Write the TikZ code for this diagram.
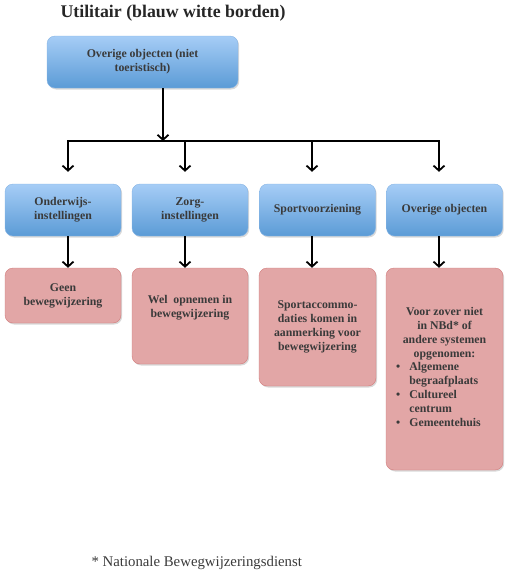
\documentclass[tikz,border=0pt]{standalone}
\usepackage{fontspec}
\setmainfont{Liberation Serif}
\usetikzlibrary{arrows.meta,positioning,shadows}
\definecolor{signtop}{HTML}{A6CDF6}
\definecolor{signbot}{HTML}{5B9BD6}
\definecolor{signrim}{HTML}{86B4E4}
\definecolor{notefill}{HTML}{E2A6A6}
\definecolor{noterim}{HTML}{D27C7C}
\definecolor{inktext}{HTML}{3A3A3A}
\tikzset{
  bx/.style={rounded corners=8pt, align=center, font=\bfseries\fontsize{11.8}{14}\selectfont, text=inktext, inner sep=2pt,
    drop shadow={shadow xshift=1.2pt, shadow yshift=-1.5pt, opacity=0.3}},
  sign/.style={bx, draw=signrim, top color=signtop, bottom color=signbot},
  note/.style={bx, draw=noterim, fill=notefill},
  arr/.style={-{Straight Barb[length=5pt,width=11pt]}, line width=1.8pt, color=black},
}

\begin{document}
\begin{tikzpicture}[x=1pt, y=-1pt]
  \useasboundingbox (0,0) rectangle (511,571);
  \node[anchor=west, font=\bfseries\fontsize{17.8}{20}\selectfont, text=black!85] (title) at (57,13) {Utilitair (blauw witte borden)};
  \node[sign, minimum width=191pt, minimum height=52pt] (top) at (142.5,62) {Overige objecten (niet\\toeristisch)};
  % tweede rij
  \foreach \nm/\x/\tx in {b1/63/{Onderwijs-\\instellingen}, b2/190/{Zorg-\\instellingen}, b3/317.5/{Sportvoorziening}, b4/444.5/{Overige objecten}}
  {
    \node[sign, minimum width=116pt, minimum height=52pt] (\nm) at (\x,210) {\tx};
  }
  % derde rij
  \node[note, minimum width=116pt, minimum height=55pt] (n1) at (63,295.5) {Geen\\bewegwijzering};
  \node[note, minimum width=116pt, minimum height=96pt] (n2) at (190,316) {Wel\ \ opnemen in\\bewegwijzering\\[6pt]};
  \node[note, minimum width=117pt, minimum height=118pt] (n3) at (317.5,327) {Sportaccommo-\\daties komen in\\aanmerking voor\\bewegwijzering};
  \node[note, minimum width=117pt, minimum height=202pt] (n4) at (444.5,369) {Voor zover niet\\in NBd* of\\andere systemen\\opgenomen:\\
    \begin{tabular}{@{}l@{\hspace{9pt}}l@{}}\textbullet & Algemene\\ & begraafplaats\\ \textbullet & Cultureel\\ & centrum\\ \textbullet & Gemeentehuis\end{tabular}\hspace*{12pt}};
  % verbindingen
  \coordinate (hub) at (163,141);
  \foreach \i/\x in {1/68, 2/185, 3/312, 4/439} \coordinate (k\i) at (\x,141);
  \draw[arr] (hub |- top.south) -- (hub);
  \draw[arr, shorten >=12pt] (hub) -| (k1 |- b1.north);
  \draw[arr, shorten >=12pt] (hub) -| (k4 |- b4.north);
  \draw[arr, shorten >=12pt] (k2) -- (k2 |- b2.north);
  \draw[arr, shorten >=12pt] (k3) -- (k3 |- b3.north);
  \foreach \i in {1,...,4} \draw[arr] (k\i |- b\i.south) -- (k\i |- n\i.north);
  \node[anchor=west, font=\fontsize{14.8}{17}\selectfont, text=inktext] (foot) at (88,563) {* Nationale Bewegwijzeringsdienst};
\end{tikzpicture}
\end{document}
